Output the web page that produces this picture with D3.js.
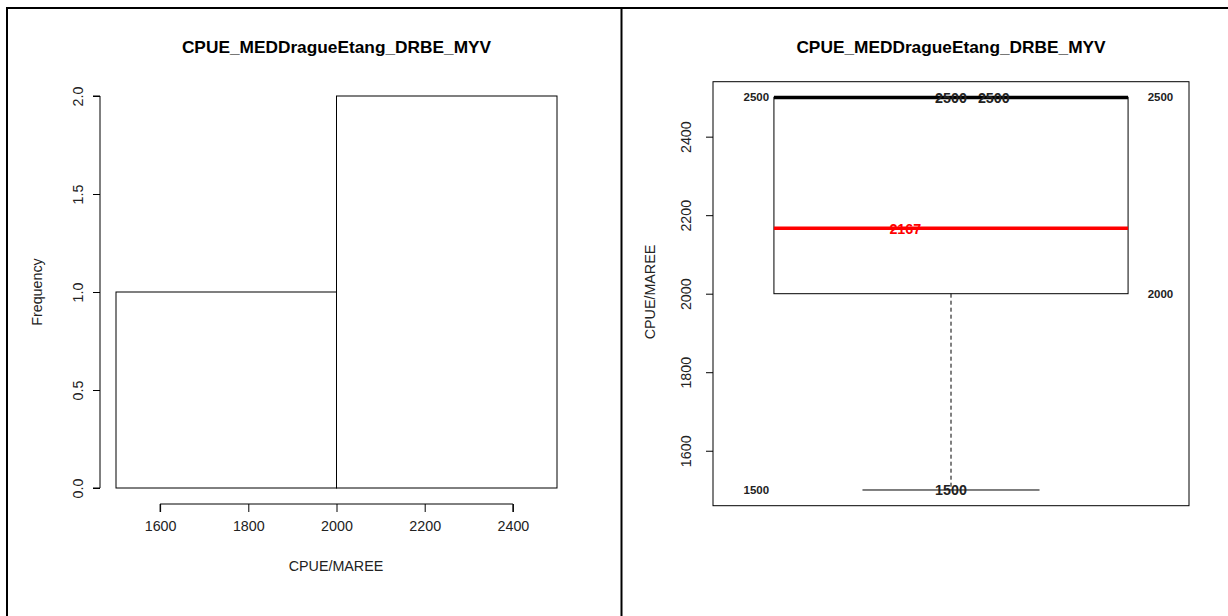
<!DOCTYPE html>
<html>
<head>
<meta charset="utf-8">
<script src="https://cdn.jsdelivr.net/npm/d3@7"></script>
<style>
  html, body { margin: 0; padding: 0; background: #fff; }
  svg { display: block; font-family: "Liberation Sans", Arial, Helvetica, sans-serif; }
</style>
</head>
<body>
<svg id="chart" width="1228" height="616"></svg>
<script>
// Catch-per-unit-effort per trip, gear DRBE, species MYV
const chartTitle = "CPUE_MEDDragueEtang_DRBE_MYV";
const axisTitle = "CPUE/MAREE";

// histogram bins and counts
const binEdges = [1500, 2000, 2500];
const binCounts = [1, 2];
const histXTicks = [1600, 1800, 2000, 2200, 2400];
const histYTicks = [0, 0.5, 1.0, 1.5, 2.0];

// boxplot summary
const boxMin = 1500, boxQ1 = 2000, boxMedian = 2500, boxQ3 = 2500, boxMax = 2500;
const boxMean = 2167;
const boxYTicks = [1600, 1800, 2000, 2200, 2400];

const svg = d3.select("#chart");

// panel frame lines
svg.append("path")
  .attr("d", "M7,616 V8 H1228 M621.5,8 V616")
  .attr("fill", "none").attr("stroke", "#000").attr("stroke-width", 2);

// ---------- histogram ----------
const hx = d3.scaleLinear().domain([1500, 2500]).range([116, 557]);
const hy = d3.scaleLinear().domain([0, 2]).range([488, 96]);

const hist = svg.append("g");
hist.append("text").attr("x", 336.5).attr("y", 53)
  .attr("text-anchor", "middle").attr("font-weight", "bold").attr("font-size", 17.3)
  .text(chartTitle);

hist.selectAll("rect.bar").data(binCounts).join("rect").attr("class", "bar")
  .attr("x", (d, i) => hx(binEdges[i]))
  .attr("width", (d, i) => hx(binEdges[i + 1]) - hx(binEdges[i]))
  .attr("y", d => hy(d))
  .attr("height", d => hy(0) - hy(d))
  .attr("fill", "none").attr("stroke", "#000").attr("stroke-width", 1);

const hxAxis = hist.append("g").attr("transform", "translate(0,504)")
  .call(d3.axisBottom(hx).tickValues(histXTicks).tickFormat(d3.format("d")).tickSize(8).tickPadding(9).tickSizeOuter(0));
const hyAxis = hist.append("g").attr("transform", "translate(100,0)")
  .call(d3.axisLeft(hy).tickValues(histYTicks).tickFormat(d3.format(".1f")).tickSize(7).tickSizeOuter(0));

[hxAxis, hyAxis].forEach(a => {
  a.select(".domain").attr("stroke", "#000");
  a.selectAll(".tick line").attr("stroke", "#000");
  a.selectAll("text").attr("font-size", 14.3).attr("fill", "#222")
    .attr("font-family", "Liberation Sans, Arial, sans-serif");
});
// x axis line spans only the ticks
hxAxis.select(".domain").attr("d", `M${hx(1600)},8V0H${hx(2400)}V8`);
hyAxis.select(".domain").attr("d", `M-7,${hy(0)}H0V${hy(2)}H-7`);
hyAxis.selectAll(".tick text")
  .attr("transform", "rotate(-90)").attr("x", 0).attr("y", -22)
  .attr("dy", "0.35em").attr("text-anchor", "middle");

hist.append("text").attr("x", 336).attr("y", 571).attr("text-anchor", "middle")
  .attr("font-size", 14.3).attr("fill", "#222").text(axisTitle);
hist.append("text").attr("transform", "translate(42,292) rotate(-90)")
  .attr("text-anchor", "middle").attr("font-size", 14.3).attr("fill", "#222").text("Frequency");

// ---------- boxplot ----------
const bx = d3.scaleLinear().domain([0.5, 1.5]).range([713, 1189]);
const by = d3.scaleLinear().domain([1460, 2540]).range([505.7, 81.7]);
const box = svg.append("g");

box.append("text").attr("x", 951).attr("y", 53)
  .attr("text-anchor", "middle").attr("font-weight", "bold").attr("font-size", 17.3)
  .text(chartTitle);

box.append("rect").attr("x", bx(0.5)).attr("y", by(2540))
  .attr("width", bx(1.5) - bx(0.5)).attr("height", by(1460) - by(2540))
  .attr("fill", "none").attr("stroke", "#000").attr("stroke-width", 1);

const halfBox = 0.372, halfCap = 0.186;
// lower whisker
box.append("line").attr("x1", bx(1)).attr("x2", bx(1))
  .attr("y1", by(boxQ1)).attr("y2", by(boxMin))
  .attr("stroke", "#000").attr("stroke-dasharray", "4,3");
box.append("line").attr("x1", bx(1 - halfCap)).attr("x2", bx(1 + halfCap))
  .attr("y1", by(boxMin)).attr("y2", by(boxMin)).attr("stroke", "#000");
// upper whisker (zero length here)
box.append("line").attr("x1", bx(1 - halfCap)).attr("x2", bx(1 + halfCap))
  .attr("y1", by(boxMax)).attr("y2", by(boxMax)).attr("stroke", "#000");
// box body
box.append("rect").attr("x", bx(1 - halfBox)).attr("y", by(boxQ3))
  .attr("width", bx(1 + halfBox) - bx(1 - halfBox)).attr("height", by(boxQ1) - by(boxQ3))
  .attr("fill", "none").attr("stroke", "#000").attr("stroke-width", 1);
// median
box.append("line").attr("x1", bx(1 - halfBox)).attr("x2", bx(1 + halfBox))
  .attr("y1", by(boxMedian)).attr("y2", by(boxMedian))
  .attr("stroke", "#000").attr("stroke-width", 3.5);
// mean
box.append("line").attr("x1", bx(1 - halfBox)).attr("x2", bx(1 + halfBox))
  .attr("y1", by(boxMean)).attr("y2", by(boxMean))
  .attr("stroke", "#ff0000").attr("stroke-width", 3.5);

const byAxis = box.append("g").attr("transform", `translate(${bx(0.5)},0)`)
  .call(d3.axisLeft(by).tickValues(boxYTicks).tickFormat(d3.format("d")).tickSize(7).tickSizeOuter(0));
byAxis.select(".domain").remove();
byAxis.selectAll(".tick line").attr("stroke", "#000");
byAxis.selectAll(".tick text")
  .attr("font-size", 14.3).attr("fill", "#222").attr("font-family", "Liberation Sans, Arial, sans-serif")
  .attr("transform", "rotate(-90)").attr("x", 0).attr("y", -27)
  .attr("dy", "0.35em").attr("text-anchor", "middle");

box.append("text").attr("transform", "translate(655,292) rotate(-90)")
  .attr("text-anchor", "middle").attr("font-size", 14.3).attr("fill", "#222").text(axisTitle);

// value annotations
const sideLabels = [
  { v: boxMax, pos: 0.591 },
  { v: boxMin, pos: 0.591 },
  { v: boxQ3, pos: 1.44 },
  { v: boxQ1, pos: 1.44 }
];
box.selectAll("text.side").data(sideLabels).join("text").attr("class", "side")
  .attr("x", d => bx(d.pos)).attr("y", d => by(d.v)).attr("dy", "0.35em")
  .attr("text-anchor", "middle").attr("font-weight", "bold").attr("font-size", 11.5)
  .attr("fill", "#222").text(d => d3.format("d")(d.v));

const centerLabels = [
  { v: boxMedian, pos: 1.0, color: "#222" },
  { v: boxMax, pos: 1.09, color: "#222" },
  { v: boxMin, pos: 1.0, color: "#222" },
  { v: boxMean, pos: 0.904, color: "#ff0000" }
];
box.selectAll("text.center").data(centerLabels).join("text").attr("class", "center")
  .attr("x", d => bx(d.pos)).attr("y", d => by(d.v)).attr("dy", "0.38em")
  .attr("text-anchor", "middle").attr("font-weight", "bold").attr("font-size", 14.3)
  .attr("fill", d => d.color).text(d => d3.format("d")(d.v));
</script>
</body>
</html>
